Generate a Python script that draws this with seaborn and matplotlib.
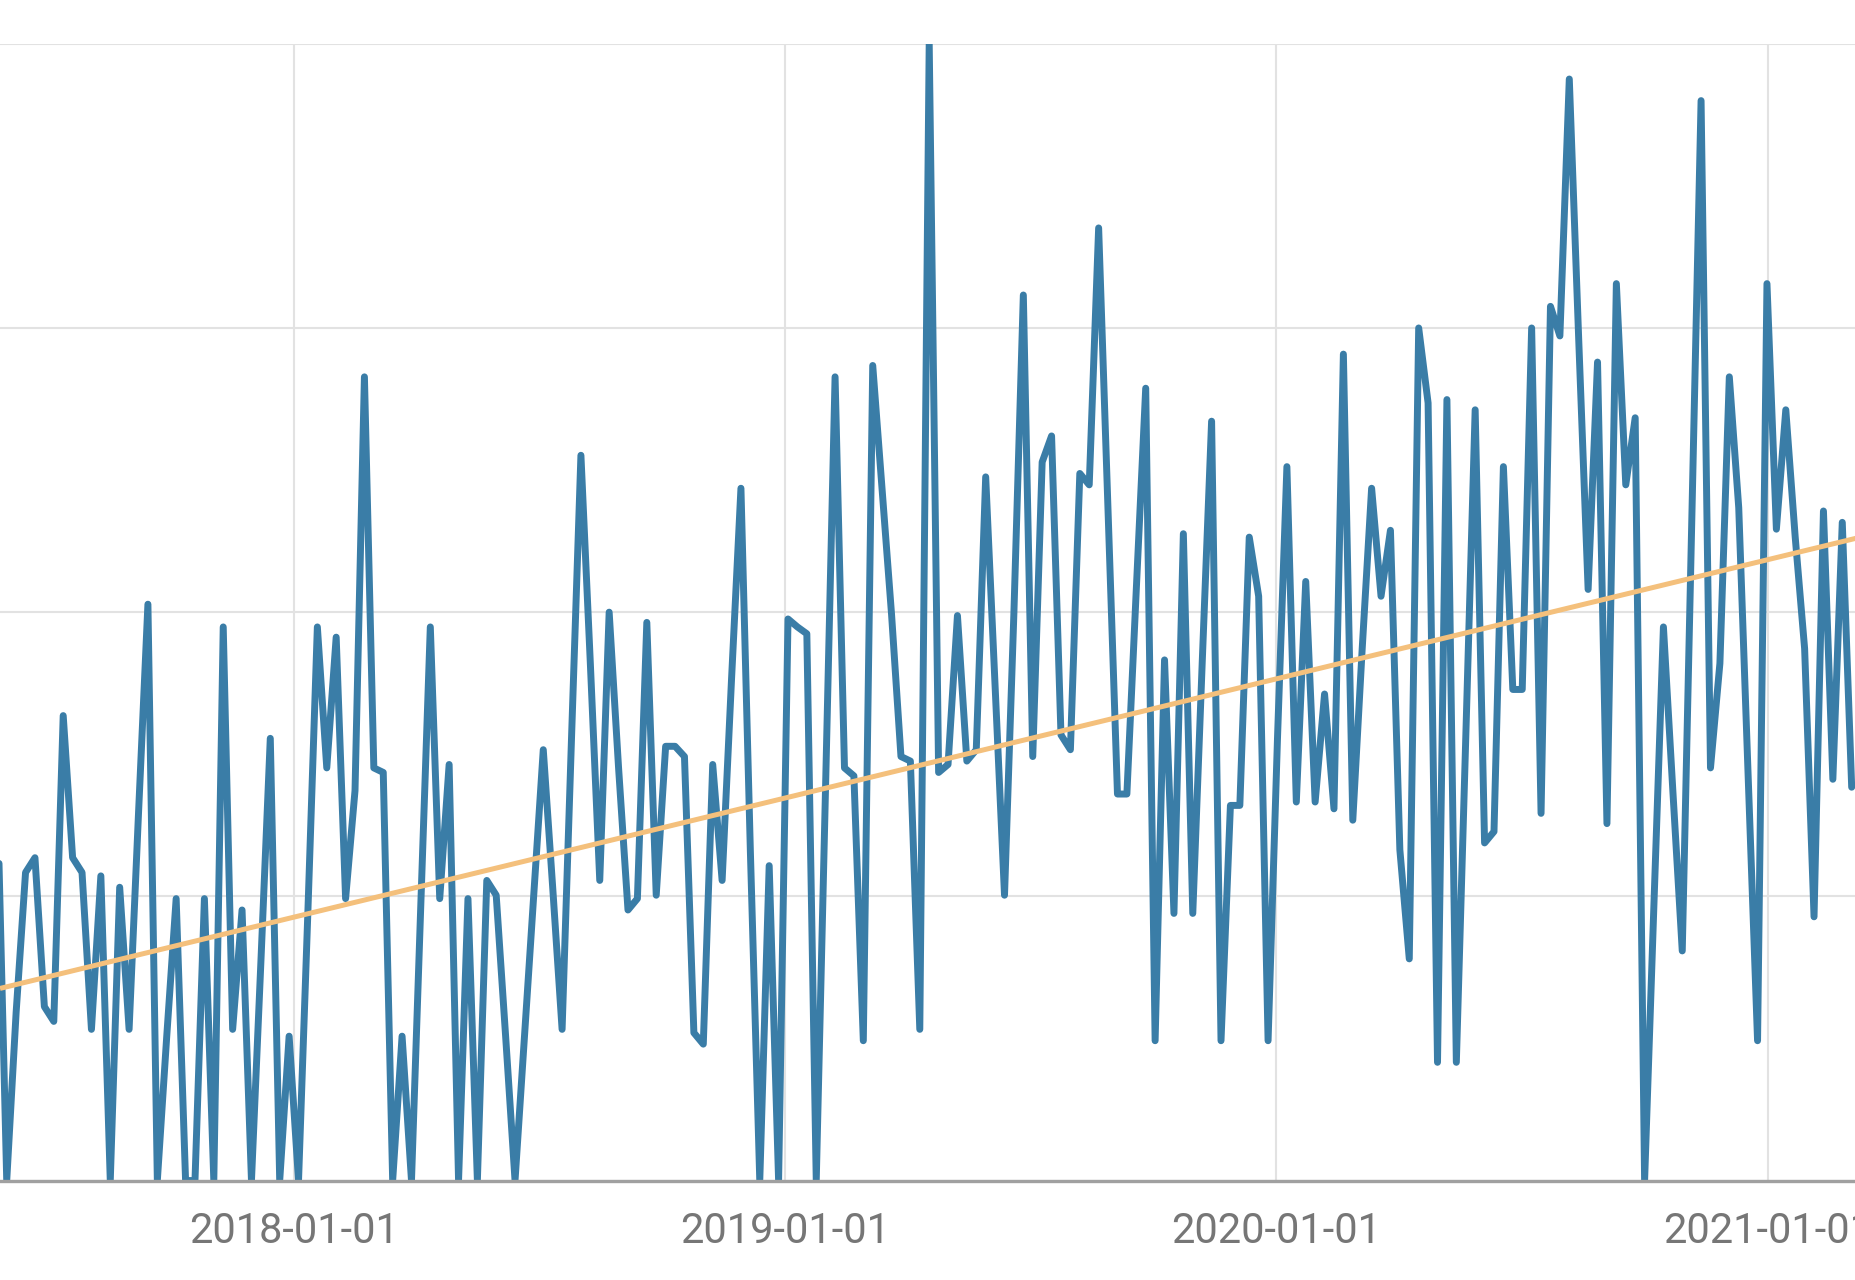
import matplotlib

matplotlib.use("Agg")
import matplotlib.dates as mdates
import matplotlib.pyplot as plt
import pandas as pd
import seaborn as sns

# weekly series, one value per week starting at START_DATE
START_DATE = "2017-05-25"
VALUES = [
    34.0, 0.0, 14.8, 27.1, 28.4, 15.3, 14.0, 40.9, 28.4, 27.1,
    13.3, 26.8, 0.0, 25.8, 13.3, 32.3, 50.7, 0.0, 12.7, 24.8,
    0.0, 0.0, 24.8, 0.0, 48.7, 13.3, 23.8, 0.0, 19.2, 38.9,
    0.0, 12.7, 0.0, 23.8, 48.7, 36.3, 47.8, 24.8, 34.3, 70.7,
    36.3, 35.9, 0.0, 12.7, 0.0, 24.5, 48.7, 24.8, 36.6, 0.0,
    24.8, 0.0, 26.4, 25.1, 12.7, 0.0, 12.6, 25.3, 37.9, 25.8,
    13.3, 38.9, 63.8, 45.5, 26.4, 50.0, 36.3, 23.8, 24.8, 49.1,
    25.1, 38.2, 38.2, 37.3, 13.0, 12.0, 36.6, 26.4, 44.1, 60.9,
    29.0, 0.0, 27.7, 0.0, 49.4, 48.7, 48.1, 0.0, 35.0, 70.7,
    36.3, 35.6, 12.3, 71.7, 60.7, 49.8, 37.3, 36.9, 13.3, 100.0,
    35.9, 36.6, 49.7, 36.9, 37.9, 61.9, 43.5, 25.1, 50.0, 77.9,
    37.3, 63.2, 65.5, 39.2, 37.9, 62.2, 61.2, 83.8, 58.9, 34.0,
    34.0, 52.0, 69.7, 12.3, 45.8, 23.5, 56.9, 23.5, 45.5, 66.8,
    12.3, 33.0, 33.0, 56.6, 51.4, 12.3, 38.9, 62.8, 33.3, 52.7,
    33.3, 42.8, 32.7, 72.7, 31.7, 46.8, 60.9, 51.4, 57.2, 29.1,
    19.5, 75.0, 68.4, 10.4, 68.7, 10.4, 38.9, 67.8, 29.7, 30.7,
    62.8, 43.2, 43.2, 75.0, 32.3, 76.9, 74.3, 96.9, 74.0, 52.0,
    72.0, 31.4, 78.9, 61.2, 67.1, 0.0, 24.5, 48.7, 34.3, 20.2,
    57.6, 95.0, 36.3, 45.5, 70.7, 59.2, 35.6, 12.3, 78.9, 57.3,
    67.8, 56.6, 46.8, 23.2, 58.9, 35.3, 57.9, 34.6,
]

TREND_DATES = ["2017-05-27 00:00", "2021-03-07 05:00"]
TREND_VALUES = [16.9, 56.5]

X_LIMITS = ["2017-05-27 00:00", "2021-03-07 05:00"]
Y_GRID = [0, 25, 50, 75, 100]
TICK_DATES = ["2018-01-01", "2019-01-01", "2020-01-01", "2021-01-01"]

series = pd.DataFrame(
    {
        "date": pd.date_range(START_DATE, periods=len(VALUES), freq="7D"),
        "value": VALUES,
    }
)
trend = pd.DataFrame({"date": pd.to_datetime(TREND_DATES), "value": TREND_VALUES})

sns.set_theme(style="whitegrid")
plt.rcParams["font.family"] = ["Roboto", "DejaVu Sans"]

fig = plt.figure(figsize=(18.56, 12.8), dpi=100)
ax = fig.add_axes([0.0, 0.0777, 1.0, 0.8881])

sns.lineplot(data=series, x="date", y="value", color="#3a7da7", linewidth=5.0, ax=ax)
sns.lineplot(
    data=trend, x="date", y="value", color="#f4c07c", linewidth=3.6,
    solid_capstyle="butt", ax=ax,
)

ax.set_xlim(pd.to_datetime(X_LIMITS))
ax.set_ylim(Y_GRID[0], Y_GRID[-1])
ax.set_yticks(Y_GRID)
ax.set_xticks(pd.to_datetime(TICK_DATES))
ax.xaxis.set_major_formatter(mdates.DateFormatter("%Y-%m-%d"))

ax.tick_params(axis="y", labelleft=False, length=0)
ax.tick_params(axis="x", length=0, pad=22, labelsize=30, labelcolor="#767676")
ax.grid(color="#e2e2e2", linewidth=1.5)
ax.set_xlabel("")
ax.set_ylabel("")

for side in ("left", "right", "top"):
    ax.spines[side].set_visible(False)
ax.spines["bottom"].set_color("#a0a0a0")
ax.spines["bottom"].set_linewidth(2.4)

fig.savefig("out.png", dpi=100)
plt.close(fig)
